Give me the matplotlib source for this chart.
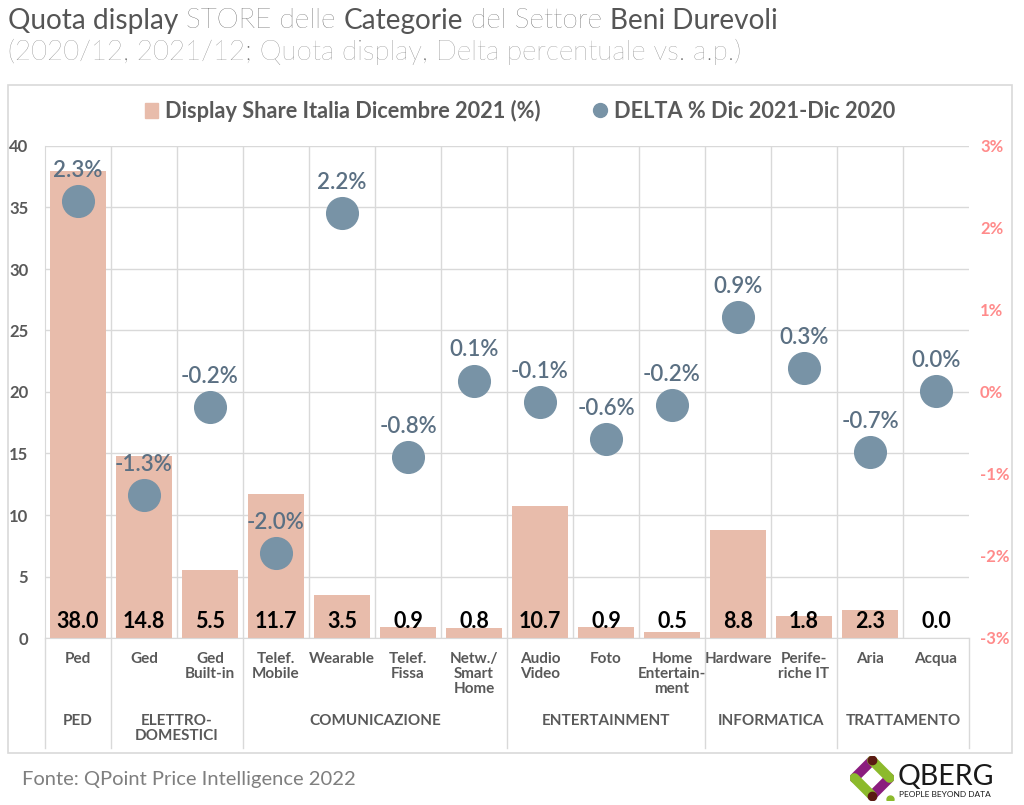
import numpy as np
import matplotlib.pyplot as plt
from matplotlib.patches import Rectangle
from matplotlib.lines import Line2D
import matplotlib.transforms as mtransforms

plt.rcParams['font.family'] = ['Lato', 'DejaVu Sans']

# Data
categories = ["Ped", "Ged", "Ged\nBuilt-in", "Telef.\nMobile", "Wearable", "Telef.\nFissa",
              "Netw./\nSmart\nHome", "Audio\nVideo", "Foto", "Home\nEntertain-\nment",
              "Hardware", "Perife-\nriche IT", "Aria", "Acqua"]
share = [38.0, 14.8, 5.5, 11.7, 3.5, 0.9, 0.8, 10.7, 0.9, 0.5, 8.8, 1.8, 2.3, 0.0]
delta = [2.33, -1.26, -0.18, -1.96, 2.18, -0.79, 0.14, -0.12, -0.57, -0.16, 0.91, 0.29, -0.73, 0.01]
groups = ["PED", "ELETTRO-\nDOMESTICI", "COMUNICAZIONE", "ENTERTAINMENT", "INFORMATICA", "TRATTAMENTO"]
group_sizes = [1, 2, 4, 3, 2, 2]

bar_color = "#e8bcab"
dot_color = "#7893a6"
grid_color = "#d9d9d9"
gray = "#595959"

fig = plt.figure(figsize=(10.24, 8.05), dpi=100)
W, H = 1024, 805

def fx(px):
    return px / W

def fy(py):
    return 1 - py / H

# outer frame
fig.patches.append(Rectangle((fx(8), fy(753)), fx(1012) - fx(8), fy(85) - fy(753),
                             transform=fig.transFigure, fill=False, edgecolor="#d9d9d9", lw=1.2))

ax = fig.add_axes([fx(45), fy(638), fx(969) - fx(45), fy(146) - fy(638)])
x = np.arange(len(categories))
ax.bar(x, share, width=0.85, color=bar_color, zorder=2)
ax.set_xlim(-0.5, len(categories) - 0.5)
ax.set_ylim(0, 40)
ax.set_yticks(range(0, 41, 5))
ax.tick_params(axis='y', colors=gray, labelsize=12, length=0, pad=12)
for t in ax.get_yticklabels():
    t.set_fontweight('bold')
ax.grid(axis='y', color=grid_color, lw=1, zorder=0)
for b in np.arange(0.5, len(categories) - 1, 1):
    ax.axvline(b, color=grid_color, lw=1, zorder=0)
for s in ['top', 'right']:
    ax.spines[s].set_visible(False)
ax.spines['left'].set_color(grid_color)
ax.spines['bottom'].set_color(grid_color)

for xi, v in zip(x, share):
    ax.text(xi, 0.45, f"{v:.1f}", ha='center', va='bottom', fontsize=15.5,
            fontweight='bold', color='black', zorder=4)

ax.set_xticks(x)
ax.set_xticklabels(categories, fontsize=11, color=gray, linespacing=1.1, fontweight='bold')
ax.tick_params(axis='x', length=0, pad=10)

ax2 = ax.twinx()
ax2.set_ylim(-3, 3)
ax2.set_yticks(range(-3, 4))
ax2.set_yticklabels([f"{v}%" for v in range(-3, 4)])
ax2.tick_params(axis='y', colors="#ff8b8b", labelsize=12, length=0, pad=8)
for t in ax2.get_yticklabels():
    t.set_fontweight('bold')
for s in ax2.spines.values():
    s.set_visible(False)
ax2.scatter(x, delta, s=520, color=dot_color, zorder=5)
for xi, d in zip(x, delta):
    ax2.annotate(f"{d:.1f}%", (xi, d), xytext=(0, 22), textcoords='offset points',
                 ha='center', va='center', fontsize=16, fontweight='semibold',
                 color="#5b7083", zorder=6)

# group labels and separators
trans = mtransforms.blended_transform_factory(ax.transData, ax.transAxes)
edges = np.concatenate([[0], np.cumsum(group_sizes)]) - 0.5
for g, a, b in zip(groups, edges[:-1], edges[1:]):
    ax.text((a + b) / 2, -0.155, g, transform=trans, ha='center', va='top',
            fontsize=11, color=gray, fontweight='bold', linespacing=1.1)
bottom = (fy(748) - fy(638)) / (fy(146) - fy(638))
for e in edges:
    ax.add_line(Line2D([e, e], [0, bottom], transform=trans, color=grid_color,
                       lw=1, clip_on=False))

# legend
handles = [Rectangle((0, 0), 1, 1, color=bar_color),
           Line2D([], [], marker='o', ls='', color=dot_color, markersize=10)]
leg = fig.legend(handles, ["Display Share Italia Dicembre 2021 (%)", "DELTA % Dic 2021-Dic 2020"],
                 loc='center', bbox_to_anchor=(fx(520), fy(111)), ncol=2, frameon=False,
                 fontsize=15.7, handlelength=0.6, handletextpad=0.35, columnspacing=2.4)
for t in leg.get_texts():
    t.set_color(gray)
    t.set_fontweight('bold')

# title
title_parts = [("Quota display", 'normal', "#555555"), (" STORE delle ", 'light', "#3a3a3a"),
               ("Categorie", 'normal', "#555555"), (" del Settore ", 'light', "#3a3a3a"),
               ("Beni Durevoli", 'normal', "#555555")]
fig.canvas.draw()
r = fig.canvas.get_renderer()
xpos = fx(8)
for txt, w, c in title_parts:
    t = fig.text(xpos, fy(21), txt, fontsize=20.2, fontweight=w, color=c, va='center')
    bb = t.get_window_extent(renderer=r)
    xpos += bb.width / W
fig.text(fx(8), fy(52), "(2020/12, 2021/12; Quota display, Delta percentuale vs. a.p.)",
         fontsize=20, fontweight='light', color="#6e6e6e", va='center')

fig.text(fx(22), fy(779), "Fonte: QPoint Price Intelligence 2022", fontsize=14.5,
         color="#7f7f7f", va='center')

# logo
lax = fig.add_axes([fx(850), fy(800), fx(894) - fx(850), fy(756) - fy(800)])
lax.set_xlim(0, 1)
lax.set_ylim(0, 1)
lax.axis('off')
purple, green, brown = "#8b1d7e", "#8cba2c", "#5a1a12"
lax.plot([0.1, 0.5], [0.5, 0.9], color=purple, lw=7, solid_capstyle='round')
lax.plot([0.5, 0.9], [0.1, 0.5], color=purple, lw=7, solid_capstyle='round')
lax.plot([0.1, 0.5], [0.5, 0.1], color=green, lw=7, solid_capstyle='round')
lax.plot([0.5, 0.9], [0.9, 0.5], color=green, lw=7, solid_capstyle='round')
lax.plot([0.5], [0.9], 'o', color=brown, markersize=6)
lax.plot([0.5], [0.1], 'o', color=brown, markersize=6)
lax.plot([0.9], [0.02], 'o', color=green, markersize=5)
fig.text(fx(898), fy(777), "QBERG", fontsize=20.5, color="#1a1a1a", va='center')
fig.text(fx(899), fy(794), "PEOPLE BEYOND DATA", fontsize=6, color="#1a1a1a", va='center')

fig.savefig("out.png", dpi=100)
